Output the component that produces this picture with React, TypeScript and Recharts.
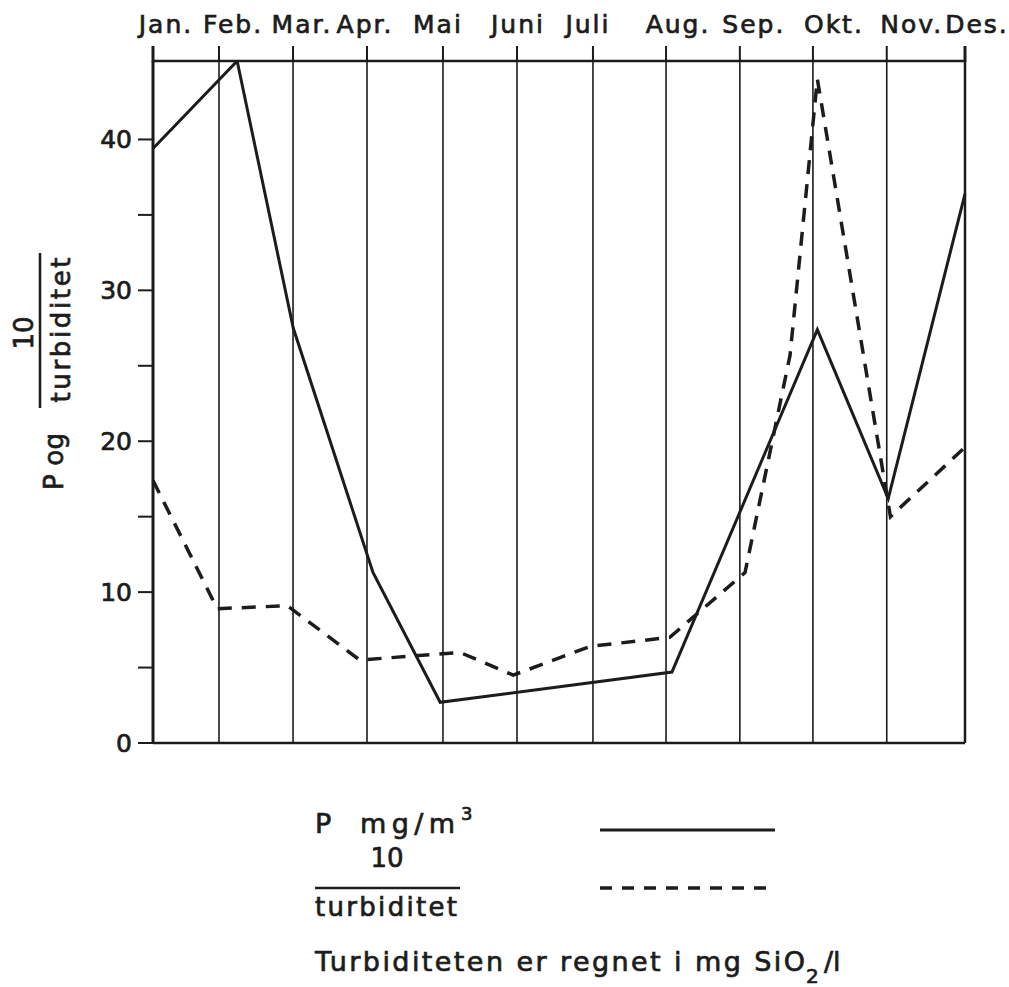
import React from "react";
import { LineChart, Line, XAxis, YAxis, CartesianGrid, ReferenceLine } from "recharts";

/* Månedsetiketter og plassering av de loddrette månedslinjene (i måneds-enheter) */
const months = ["Jan.", "Feb.", "Mar.", "Apr.", "Mai", "Juni", "Juli", "Aug.", "Sep.", "Okt.", "Nov.", "Des."];
const monthLines = [0, 0.894, 1.897, 2.899, 3.928, 4.931, 5.96, 6.95, 7.95, 8.94, 9.94, 11];

/* P mg/m3 (heltrukken) */
const pX = [0, 1.14, 1.9, 2.98, 3.89, 7.03, 9.0, 9.96, 11];
const pY = [39.4, 45.2, 27.5, 11.3, 2.7, 4.7, 27.4, 16.2, 36.4];

/* 10 / turbiditet (stiplet) */
const tX = [0, 0.87, 1.82, 2.8, 4.16, 4.88, 5.92, 7.0, 8.02, 8.63, 9.0, 9.99, 11];
const tY = [17.4, 8.9, 9.1, 5.5, 6.0, 4.5, 6.4, 7.0, 11.3, 25.7, 44.0, 15.0, 19.6];

const yTicks = [0, 5, 10, 15, 20, 25, 30, 35, 40];

// plotteflaten (samme tall som marginene under gir)
const PLOT_LEFT = 153;
const PLOT_TOP = 61;
const PLOT_W = 812;
const X_MAX = 11;

const FONT = "'DejaVu Sans', sans-serif";
const INK = "#1c1c1c";
const HEAVY = { stroke: INK, strokeWidth: 0.7 }; // gjør skriften litt fetere, som sjablongskrift

// etikettene står litt forskjøvet i forhold til linjene i originalen
const labelShift = [13, 14, 9, -2, -5, 1, -5, 12, 14, 21, 25, 12];

const pData = pX.map((x, i) => ({ x, v: pY[i] }));
const tData = tX.map((x, i) => ({ x, v: tY[i] }));

function MonthTick(props: any) {
  const { x, payload, index } = props;
  return (
    <text
      x={x + (labelShift[index] ?? 0)}
      y={33}
      textAnchor="middle"
      fontFamily={FONT}
      fontSize={25}
      letterSpacing={2}
      fill={INK}
      {...HEAVY}
    >
      {months[index] ?? payload.value}
    </text>
  );
}

function Overlay() {
  const txt = { fontFamily: FONT, fill: INK, ...HEAVY } as const;
  return (
    <svg
      width={1009}
      height={987}
      style={{ position: "absolute", left: 0, top: 0, pointerEvents: "none" }}
    >
      {/* månedslinjene stikker litt opp over rammen */}
      {monthLines.map((m, i) => {
        const x = PLOT_LEFT + (m / X_MAX) * PLOT_W;
        const w = i === 0 || i === monthLines.length - 1 ? 3 : 2;
        return <rect key={`stub-${i}`} x={x - w / 2} y={46} width={w} height={PLOT_TOP - 45} fill={INK} />;
      })}

      {/* y-aksetittel: P og 10/turbiditet */}
      <text {...txt} fontSize={26} transform="translate(63,490) rotate(-90)" textLength={57} lengthAdjust="spacing">
        P og
      </text>
      <text {...txt} fontSize={26} textAnchor="middle" transform="translate(33,333) rotate(-90)">
        10
      </text>
      <line x1={40} y1={253} x2={40} y2={408} stroke={INK} strokeWidth={2.5} />
      <text
        {...txt}
        fontSize={26}
        textAnchor="middle"
        transform="translate(70,330) rotate(-90)"
        textLength={145}
        lengthAdjust="spacing"
      >
        turbiditet
      </text>

      {/* tegnforklaring */}
      <text {...txt} x={315} y={833} fontSize={27}>P</text>
      <text {...txt} x={360} y={833} fontSize={27} textLength={95} lengthAdjust="spacing">mg/m</text>
      <text {...txt} x={461} y={820} fontSize={18}>3</text>
      <line x1={600} y1={830} x2={775} y2={830} stroke={INK} strokeWidth={3} />

      <text {...txt} x={387} y={867} fontSize={26} textAnchor="middle">10</text>
      <line x1={315} y1={888} x2={460} y2={888} stroke={INK} strokeWidth={2.5} />
      <text {...txt} x={315} y={916} fontSize={26} textLength={142} lengthAdjust="spacing">turbiditet</text>
      <line x1={600} y1={888} x2={775} y2={888} stroke={INK} strokeWidth={3.5} strokeDasharray="12 10" />

      <text {...txt} x={315} y={971} fontSize={27} textLength={490} lengthAdjust="spacing">
        Turbiditeten er regnet i mg SiO
      </text>
      <text {...txt} x={806} y={983} fontSize={20}>2</text>
      <text {...txt} x={824} y={971} fontSize={27}>/l</text>
    </svg>
  );
}

export default function App() {
  return (
    <div style={{ position: "absolute", left: 0, top: 0, width: 1009, height: 987, background: "#fff", fontFamily: FONT }}>
      <LineChart
        width={1009}
        height={987}
        margin={{ top: PLOT_TOP - 50, right: 1009 - PLOT_LEFT - PLOT_W, bottom: 214, left: PLOT_LEFT - 60 }}
      >
        <CartesianGrid xAxisId="top" horizontal={false} vertical stroke={INK} strokeWidth={1.6} />
        <XAxis
          xAxisId="top"
          orientation="top"
          type="number"
          dataKey="x"
          domain={[0, X_MAX]}
          ticks={monthLines}
          interval={0}
          height={50}
          tickLine={false}
          axisLine={{ stroke: INK, strokeWidth: 2.5 }}
          tick={<MonthTick />}
        />
        <XAxis
          xAxisId="bottom"
          orientation="bottom"
          type="number"
          dataKey="x"
          domain={[0, X_MAX]}
          height={30}
          tick={false}
          tickLine={false}
          axisLine={{ stroke: INK, strokeWidth: 2.5 }}
        />
        <YAxis
          type="number"
          domain={[0, 45.2]}
          allowDataOverflow
          ticks={yTicks}
          interval={0}
          width={60}
          tickSize={15}
          tickMargin={6}
          tickLine={{ stroke: INK, strokeWidth: 2 }}
          axisLine={{ stroke: INK, strokeWidth: 3 }}
          tick={{ fill: INK, fontSize: 25, fontFamily: FONT, ...HEAVY }}
          tickFormatter={(v: number) => (v % 10 === 0 ? String(v) : "")}
        />
        <ReferenceLine xAxisId="top" x={X_MAX} stroke={INK} strokeWidth={2.5} />
        <Line
          xAxisId="top"
          data={pData}
          dataKey="v"
          type="linear"
          stroke={INK}
          strokeWidth={3}
          dot={false}
          isAnimationActive={false}
        />
        <Line
          xAxisId="top"
          data={tData}
          dataKey="v"
          type="linear"
          stroke={INK}
          strokeWidth={3.5}
          strokeDasharray="14 10"
          dot={false}
          isAnimationActive={false}
        />
      </LineChart>
      <Overlay />
    </div>
  );
}
